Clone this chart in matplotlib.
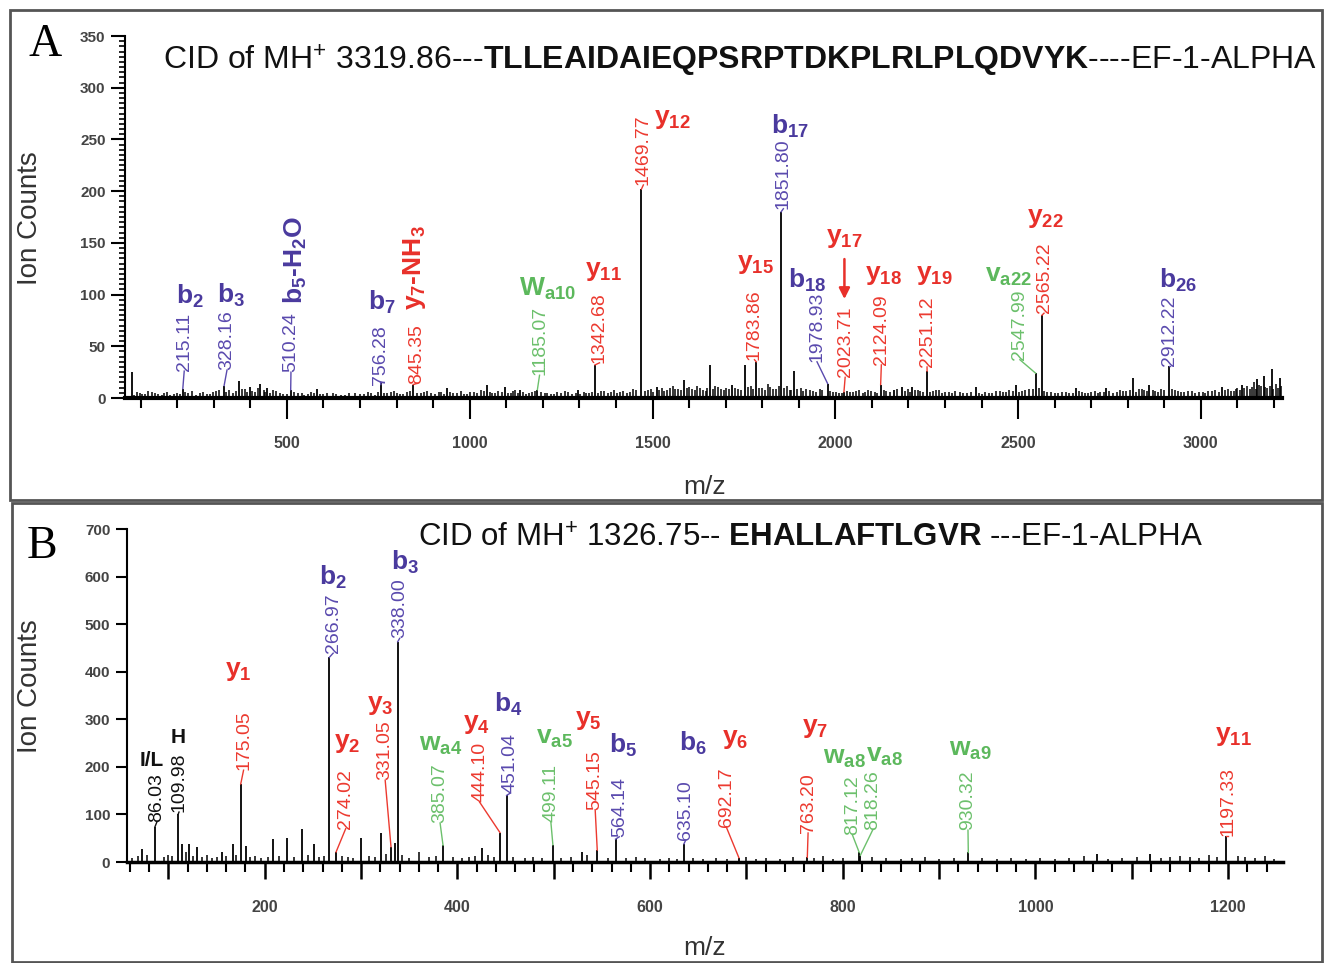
import matplotlib
matplotlib.use("Agg")
import matplotlib.pyplot as plt
import numpy as np
from matplotlib.patches import Rectangle
from matplotlib.ticker import MultipleLocator, FuncFormatter

plt.rcParams['font.family'] = 'Liberation Sans'
plt.rcParams['mathtext.fontset'] = 'custom'
plt.rcParams['mathtext.rm'] = 'Liberation Sans'
plt.rcParams['mathtext.it'] = 'Liberation Sans:italic'
plt.rcParams['mathtext.bf'] = 'Liberation Sans:bold'

# ---------------- panel A data ----------------
peaks_a_mz = [76, 215.11, 328.16, 369, 399, 426, 445, 510.24, 582, 756.28, 845.35, 937,
              1046, 1096, 1137, 1185.07, 1295, 1342.68, 1469.77, 1511, 1587, 1658, 1718,
              1754, 1783.86, 1851.80, 1888, 1978.93, 2023.71, 2124.09, 2161, 2183, 2210,
              2251.12, 2385, 2494, 2547.99, 2565.22, 2658, 2740, 2814, 2857, 2912.22, 3057,
              3112, 3153, 3172, 3194, 3216]
peaks_a_int = [25, 9, 12, 16, 11, 14, 10, 8, 9, 15, 13, 10,
               13, 11, 8, 8, 8, 32, 202, 11, 17, 32, 13,
               32, 35, 180, 26, 14, 6, 13, 8, 11, 11,
               26, 11, 13, 24, 80, 10, 10, 19, 13, 31, 11,
               13, 18, 21, 28, 19]

noise_a_mz = [90, 104, 120, 140, 158, 172, 190, 230, 252, 270, 290, 305, 342, 352, 385, 412,
              436, 455, 470, 490, 530, 548, 565, 600, 625, 648, 670, 700, 722, 740, 775, 792,
              810, 828, 866, 884, 905, 922, 955, 975, 992, 1012, 1030, 1062, 1078, 1112, 1125,
              1155, 1170, 1205, 1222, 1240, 1260, 1280, 1312, 1325, 1360, 1378, 1395, 1412,
              1430, 1448, 1488, 1500, 1525, 1540, 1555, 1570, 1600, 1615, 1630, 1645, 1672,
              1688, 1700, 1735, 1770, 1800, 1815, 1830, 1868, 1878, 1905, 1920, 1940, 1958,
              1995, 2010, 2040, 2058, 2075, 2090, 2108, 2140, 2198, 2225, 2240, 2268, 2285,
              2300, 2318, 2340, 2360, 2400, 2420, 2440, 2460, 2475, 2510, 2530, 2580, 2600,
              2620, 2640, 2675, 2690, 2710, 2725, 2760, 2780, 2795, 2830, 2845, 2875, 2890,
              2930, 2945, 2965, 2985, 3005, 3020, 3040, 3075, 3090, 3100, 3125, 3135, 3145,
              3165, 3182, 3205]
noise_a_int = [6, 4, 7, 5, 3, 6, 4, 5, 3, 6, 4, 7, 8, 5, 9, 6,
               8, 5, 7, 4, 5, 3, 6, 4, 5, 3, 5, 4, 6, 3, 5, 7,
               4, 6, 5, 7, 4, 6, 5, 7, 4, 6, 8, 5, 7, 5, 8,
               4, 6, 5, 4, 6, 7, 4, 6, 5, 7, 5, 8, 6,
               5, 9, 8, 6, 10, 8, 12, 9, 11, 8, 10, 7, 12,
               9, 10, 9, 12, 10, 14, 9, 12, 8, 10, 9, 7, 9,
               6, 5, 6, 7, 5, 8, 6, 7, 9, 8, 6, 7, 8,
               6, 5, 6, 5, 4, 5, 7, 6, 8, 7, 9, 6, 5,
               6, 5, 6, 5, 7, 6, 5, 8, 7, 9, 8, 7, 9,
               8, 6, 7, 5, 6, 7, 8, 9, 7, 10, 12, 9, 15,
               12, 10, 14]
noise_a2_mz = [82, 97, 112, 132, 148, 165, 180, 198, 207, 222, 240, 262, 280, 298, 315, 334,
               360, 376, 392, 405, 420, 440, 462, 480, 500, 520, 540, 557, 575, 590, 610, 635,
               660, 685, 710, 730, 748, 765, 785, 800, 818, 836, 855, 875, 895, 915, 930, 945,
               965, 985, 1002, 1020, 1040, 1055, 1070, 1088, 1104, 1118, 1132, 1145, 1162,
               1178, 1195, 1212, 1230, 1250, 1270, 1290, 1302, 1318, 1335, 1350, 1368, 1386,
               1404, 1420, 1438, 1455, 1480, 1495, 1518, 1532, 1548, 1562, 1578, 1593, 1608,
               1622, 1638, 1650, 1665, 1680, 1695, 1710, 1725, 1742, 1762, 1775, 1792, 1808,
               1822, 1838, 1845, 1860, 1875, 1895, 1912, 1930, 1948, 1965, 1985, 2002, 2018,
               2032, 2048, 2066, 2082, 2098, 2115, 2132, 2150, 2170, 2190, 2205, 2218, 2232,
               2260, 2276, 2292, 2310, 2328, 2350, 2372, 2392, 2410, 2430, 2450, 2468, 2485,
               2502, 2520, 2540, 2558, 2572, 2590, 2610, 2630, 2650, 2668, 2682, 2700, 2718,
               2735, 2750, 2770, 2788, 2805, 2822, 2838, 2852, 2868, 2882, 2900, 2920, 2938,
               2955, 2975, 2995, 3012, 3030, 3050, 3065, 3082, 3095, 3108, 3118, 3140, 3150,
               3160, 3176, 3188, 3198, 3210, 3220]
noise_a2_int = [3, 5, 4, 6, 4, 5, 3, 5, 4, 6, 7, 5, 4, 6, 8, 6,
                7, 9, 6, 7, 10, 6, 8, 5, 4, 6, 5, 4, 5, 4, 5, 4,
                3, 5, 4, 5, 6, 5, 6, 5, 4, 7, 5, 6, 5, 6, 4, 6,
                5, 4, 6, 5, 7, 6, 5, 6, 5, 7, 5, 6, 5,
                7, 6, 5, 4, 5, 6, 5, 4, 5, 6, 5, 7, 6,
                5, 7, 6, 8, 7, 9, 8, 7, 10, 9, 8, 10, 9,
                12, 8, 10, 9, 11, 8, 9, 10, 8, 11, 9, 10, 8,
                11, 9, 12, 10, 8, 9, 7, 8, 6, 8, 7, 6, 5,
                7, 6, 8, 6, 7, 5, 8, 6, 9, 7, 6, 8, 7,
                6, 8, 5, 6, 7, 5, 6, 5, 6, 5, 7, 6, 7,
                6, 8, 9, 10, 7, 6, 5, 6, 5, 7, 5, 6, 5,
                6, 7, 6, 7, 8, 6, 9, 7, 8, 6, 8, 9, 7,
                6, 7, 6, 5, 7, 6, 8, 7, 9, 8, 10, 11, 9,
                13, 11, 12, 9, 10, 12]

lab_a_mz = [215.11, 328.16, 510.24, 756.28, 845.35, 1185.07, 1342.68, 1469.77, 1783.86,
            1851.80, 1978.93, 2023.71, 2124.09, 2251.12, 2547.99, 2565.22, 2912.22]
lab_a_kind = ['b', 'b', 'b', 'b', 'y', 'w', 'y', 'y', 'y', 'b', 'b', 'y', 'y', 'y', 'w', 'y', 'b']
ion_a = [r'$\mathbf{b}_{\mathbf{2}}$', r'$\mathbf{b}_{\mathbf{3}}$', r'$\mathbf{b_5}$-$\mathbf{H_2O}$',
         r'$\mathbf{b}_{\mathbf{7}}$', r'$\mathbf{y_7}$-$\mathbf{NH_3}$', r'$\mathbf{W}_{\mathbf{a10}}$',
         r'$\mathbf{y}_{\mathbf{11}}$', r'$\mathbf{y}_{\mathbf{12}}$', r'$\mathbf{y}_{\mathbf{15}}$',
         r'$\mathbf{b}_{\mathbf{17}}$', r'$\mathbf{b}_{\mathbf{18}}$', r'$\mathbf{y}_{\mathbf{17}}$',
         r'$\mathbf{y}_{\mathbf{18}}$', r'$\mathbf{y}_{\mathbf{19}}$', r'$\mathbf{v}_{\mathbf{a22}}$',
         r'$\mathbf{y}_{\mathbf{22}}$', r'$\mathbf{b}_{\mathbf{26}}$']

# ---------------- panel B data ----------------
peaks_b_mz = [73, 86.03, 109.98, 114, 121, 130, 156, 167, 175.05, 181, 209, 223, 239, 251,
              266.97, 274.02, 300, 321, 331.05, 335, 338.00, 385.07, 425, 444.10, 451.04,
              499.11, 529, 545.15, 564.14, 635.10, 692.17, 763.20, 817.12, 818.26, 930.32,
              1064, 1119, 1197.33]
peaks_b_int = [27, 74, 100, 37, 38, 31, 22, 38, 164, 34, 48, 50, 69, 38,
               430, 21, 50, 60, 32, 40, 463, 35, 29, 62, 140,
               36, 22, 25, 48, 38, 9, 10, 20, 14, 20,
               16, 17, 54]

noise_b_mz = [62, 68, 78, 95, 100, 104, 118, 126, 135, 140, 145, 150, 160, 170, 185, 190,
              196, 203, 215, 230, 245, 256, 262, 280, 286, 292, 308, 314, 326, 342, 350, 360,
              370, 378, 395, 405, 412, 418, 432, 438, 458, 470, 478, 488, 508, 518, 535, 556,
              575, 585, 595, 610, 620, 628, 645, 655, 668, 680, 700, 710, 720, 735, 748, 770,
              780, 790, 800, 830, 845, 860, 872, 885, 900, 915, 945, 960, 975, 990, 1005,
              1020, 1035, 1050, 1075, 1090, 1105, 1130, 1140, 1150, 1160, 1170, 1180, 1188,
              1210, 1218, 1228, 1238, 1248]
noise_b_int = [8, 12, 14, 10, 15, 12, 20, 12, 10, 14, 8, 10, 12, 14, 10, 12,
               8, 10, 12, 10, 14, 10, 12, 12, 10, 8, 12, 10, 16, 14, 8, 20,
               10, 12, 10, 8, 10, 12, 14, 10, 10, 8, 10, 8, 8, 10, 14, 8,
               8, 10, 8, 6, 8, 6, 8, 6, 8, 6, 10, 6, 8, 6, 10, 8,
               12, 6, 8, 10, 8, 6, 8, 10, 6, 8, 8, 6, 8, 6, 8,
               6, 8, 12, 6, 8, 10, 8, 10, 12, 10, 8, 14, 10,
               12, 10, 8, 12, 6]

lab_b_mz = [86.03, 109.98, 175.05, 266.97, 274.02, 331.05, 338.00, 385.07, 444.10, 451.04,
            499.11, 545.15, 564.14, 635.10, 692.17, 763.20, 817.12, 818.26, 930.32, 1197.33]
lab_b_kind = ['k', 'k', 'y', 'b', 'y', 'y', 'b', 'w', 'y', 'b',
              'w', 'y', 'b', 'b', 'y', 'y', 'w', 'w', 'w', 'y']
ion_b = ['I/L', 'H', r'$\mathbf{y}_{\mathbf{1}}$', r'$\mathbf{b}_{\mathbf{2}}$', r'$\mathbf{y}_{\mathbf{2}}$',
         r'$\mathbf{y}_{\mathbf{3}}$', r'$\mathbf{b}_{\mathbf{3}}$', r'$\mathbf{w}_{\mathbf{a4}}$',
         r'$\mathbf{y}_{\mathbf{4}}$', r'$\mathbf{b}_{\mathbf{4}}$', r'$\mathbf{v}_{\mathbf{a5}}$',
         r'$\mathbf{y}_{\mathbf{5}}$', r'$\mathbf{b}_{\mathbf{5}}$', r'$\mathbf{b}_{\mathbf{6}}$',
         r'$\mathbf{y}_{\mathbf{6}}$', r'$\mathbf{y}_{\mathbf{7}}$', r'$\mathbf{w}_{\mathbf{a8}}$',
         r'$\mathbf{v}_{\mathbf{a8}}$', r'$\mathbf{w}_{\mathbf{a9}}$', r'$\mathbf{y}_{\mathbf{11}}$']

# ---------------- layout of the labels ----------------
# (value text x, value text bottom y, ion x, ion y, ion rotation)
pos_a = [(219, 26, 235, 98, 0), (336, 27, 347, 99, 0), (511, 25, 524, 133, 90),
         (757, 13, 760, 92, 0), (855, 14, 850, 126, 90), (1191, 22, 1213, 105, 0),
         (1355, 34, 1366, 123, 0), (1475, 206, 1555, 270, 0), (1779, 37, 1781, 130, 0),
         (1858, 183, 1877, 263, 0), (1950, 35, 1923, 114, 0), (2027, 20, 2024, 155, 0),
         (2126, 32, 2131, 119, 0), (2251, 30, 2270, 119, 0), (2505, 37, 2475, 118, 0),
         (2571, 82, 2574, 174, 0), (2915, 31, 2937, 114, 0)]
pos_b = [(88, 84, 83, 214, 0), (111, 105, 110, 262, 0), (178, 193, 173, 402, 0),
         (271, 439, 271, 599, 0), (284, 70, 286, 251, 0), (325, 172, 320, 330, 0),
         (340, 470, 346, 630, 0), (382, 82, 383, 245, 0), (423, 126, 420, 290, 0),
         (455, 145, 453, 331, 0), (497, 84, 501, 260, 0), (543, 110, 536, 298, 0),
         (568, 53, 572, 245, 0), (637, 46, 644, 249, 0), (679, 74, 688, 258, 0),
         (764, 61, 771, 282, 0), (810, 57, 802, 219, 0), (831, 67, 843, 222, 0),
         (930, 67, 932, 235, 0), (1200, 54, 1206, 265, 0)]

col_ion = {'b': '#4a3a9e', 'y': '#e8302a', 'w': '#5cb85c', 'k': '#111111'}
col_val = {'b': '#5a4aae', 'y': '#ec3a30', 'w': '#6cc06c', 'k': '#111111'}

W, H = 1324, 963


def fx(px):
    return px / W


def fy(py):
    return 1 - py / H


fig = plt.figure(figsize=(W / 100, H / 100), dpi=100)

# panel frames
fig.add_artist(Rectangle((fx(10), fy(500)), fx(1322) - fx(10), fy(10) - fy(500),
                         transform=fig.transFigure, fill=False, ec='#555555', lw=2))
fig.add_artist(Rectangle((fx(12), fy(962)), fx(1322) - fx(12), fy(503) - fy(962),
                         transform=fig.transFigure, fill=False, ec='#555555', lw=2))

axA = fig.add_axes([fx(125), fy(398), fx(1282) - fx(125), fy(36) - fy(398)])
axB = fig.add_axes([fx(127), fy(862), fx(1283) - fx(127), fy(529) - fy(862)])


def style_axis(ax, bottom_lw):
    for s in ['top', 'right']:
        ax.spines[s].set_visible(False)
    ax.spines['left'].set_linewidth(1.5)
    ax.spines['bottom'].set_linewidth(bottom_lw)
    ax.tick_params(axis='both', which='both', direction='out', color='black')
    for lab in ax.get_xticklabels() + ax.get_yticklabels():
        lab.set_fontweight('bold')
        lab.set_color('#444444')


def draw_spectrum(ax, pmz, pint, noise, lab_mz, lab_kind, ions, pos, ion_size):
    for nmz, nint in noise:
        ax.vlines(nmz, 0, nint, color='black', lw=1.1)
    ax.vlines(pmz, 0, pint, color='black', lw=1.3)
    pmz_arr = np.array(pmz)
    for mz, kind, ion, (tx, ty, ix, iy, rot) in zip(lab_mz, lab_kind, ions, pos):
        h = pint[int(np.argmin(np.abs(pmz_arr - mz)))]
        cv = col_val[kind]
        ax.text(tx, ty, f'{mz:.2f}', rotation=90, ha='center', va='bottom',
                color=cv, fontsize=14)
        ax.plot([mz, tx], [h, ty], color=cv, lw=1.0)
        size = ion_size if kind != 'k' else 15
        ax.text(ix, iy, ion, rotation=rot, ha='center', va='center',
                color=col_ion[kind], fontsize=size, fontweight='bold')


# ---------------- panel A ----------------
axA.set_xlim(57, 3222)
axA.set_ylim(0, 350)
draw_spectrum(axA, peaks_a_mz, peaks_a_int,
              [(noise_a_mz, noise_a_int), (noise_a2_mz, noise_a2_int)],
              lab_a_mz, lab_a_kind, ion_a, pos_a, 19)
axA.annotate('', xy=(2025, 93), xytext=(2025, 137),
             arrowprops=dict(arrowstyle='-|>', color=col_ion['y'], lw=1.8, mutation_scale=16))
axA.xaxis.set_major_locator(MultipleLocator(500))
axA.xaxis.set_minor_locator(MultipleLocator(100))
axA.yaxis.set_major_locator(MultipleLocator(50))
axA.yaxis.set_minor_locator(MultipleLocator(5))
axA.tick_params(axis='x', which='major', length=15, width=1.5, pad=12, labelsize=11.5)
axA.tick_params(axis='x', which='minor', length=7, width=1.5)
axA.tick_params(axis='y', which='major', length=10, width=1.5, pad=4, labelsize=11)
axA.tick_params(axis='y', which='minor', length=4, width=1.2)
style_axis(axA, 3)

# ---------------- panel B ----------------
axB.set_xlim(57, 1257)
axB.set_ylim(0, 700)
draw_spectrum(axB, peaks_b_mz, peaks_b_int, [(noise_b_mz, noise_b_int)],
              lab_b_mz, lab_b_kind, ion_b, pos_b, 19)
axB.xaxis.set_major_locator(MultipleLocator(100))
axB.xaxis.set_minor_locator(MultipleLocator(20))
axB.xaxis.set_major_formatter(FuncFormatter(lambda v, p: f'{int(v)}' if int(v) % 200 == 0 else ''))
axB.yaxis.set_major_locator(MultipleLocator(100))
axB.tick_params(axis='x', which='major', length=12, width=1.8, pad=15, labelsize=11.5)
axB.tick_params(axis='x', which='minor', length=7, width=1.5)
axB.tick_params(axis='y', which='major', length=8, width=1.5, pad=4, labelsize=11)
style_axis(axB, 2.5)

# ---------------- texts ----------------
fig.text(fx(163), fy(70), r'CID of MH$^{+}$ 3319.86---$\mathbf{TLLEAIDAIEQPSRPTDKPLRLPLQDVYK}$----EF-1-ALPHA',
         fontsize=23, ha='left', va='baseline', color='#111111')
fig.text(fx(418), fy(547), r'CID of MH$^{+}$ 1326.75-- $\mathbf{EHALLAFTLGVR}$ ---EF-1-ALPHA',
         fontsize=22.5, ha='left', va='baseline', color='#111111')
fig.text(fx(45), fy(45), 'A', family='Liberation Serif', fontsize=33, ha='center', va='center')
fig.text(fx(42), fy(547), 'B', family='Liberation Serif', fontsize=33, ha='center', va='center')
for py in [218, 686]:
    fig.text(fx(30), fy(py), 'Ion Counts', rotation=90, fontsize=20, color='#333333',
             ha='center', va='center')
for py in [487, 948]:
    fig.text(fx(705), fy(py), 'm/z', fontsize=19, color='#333333', ha='center', va='center')

fig.savefig('out.png', dpi=100)
